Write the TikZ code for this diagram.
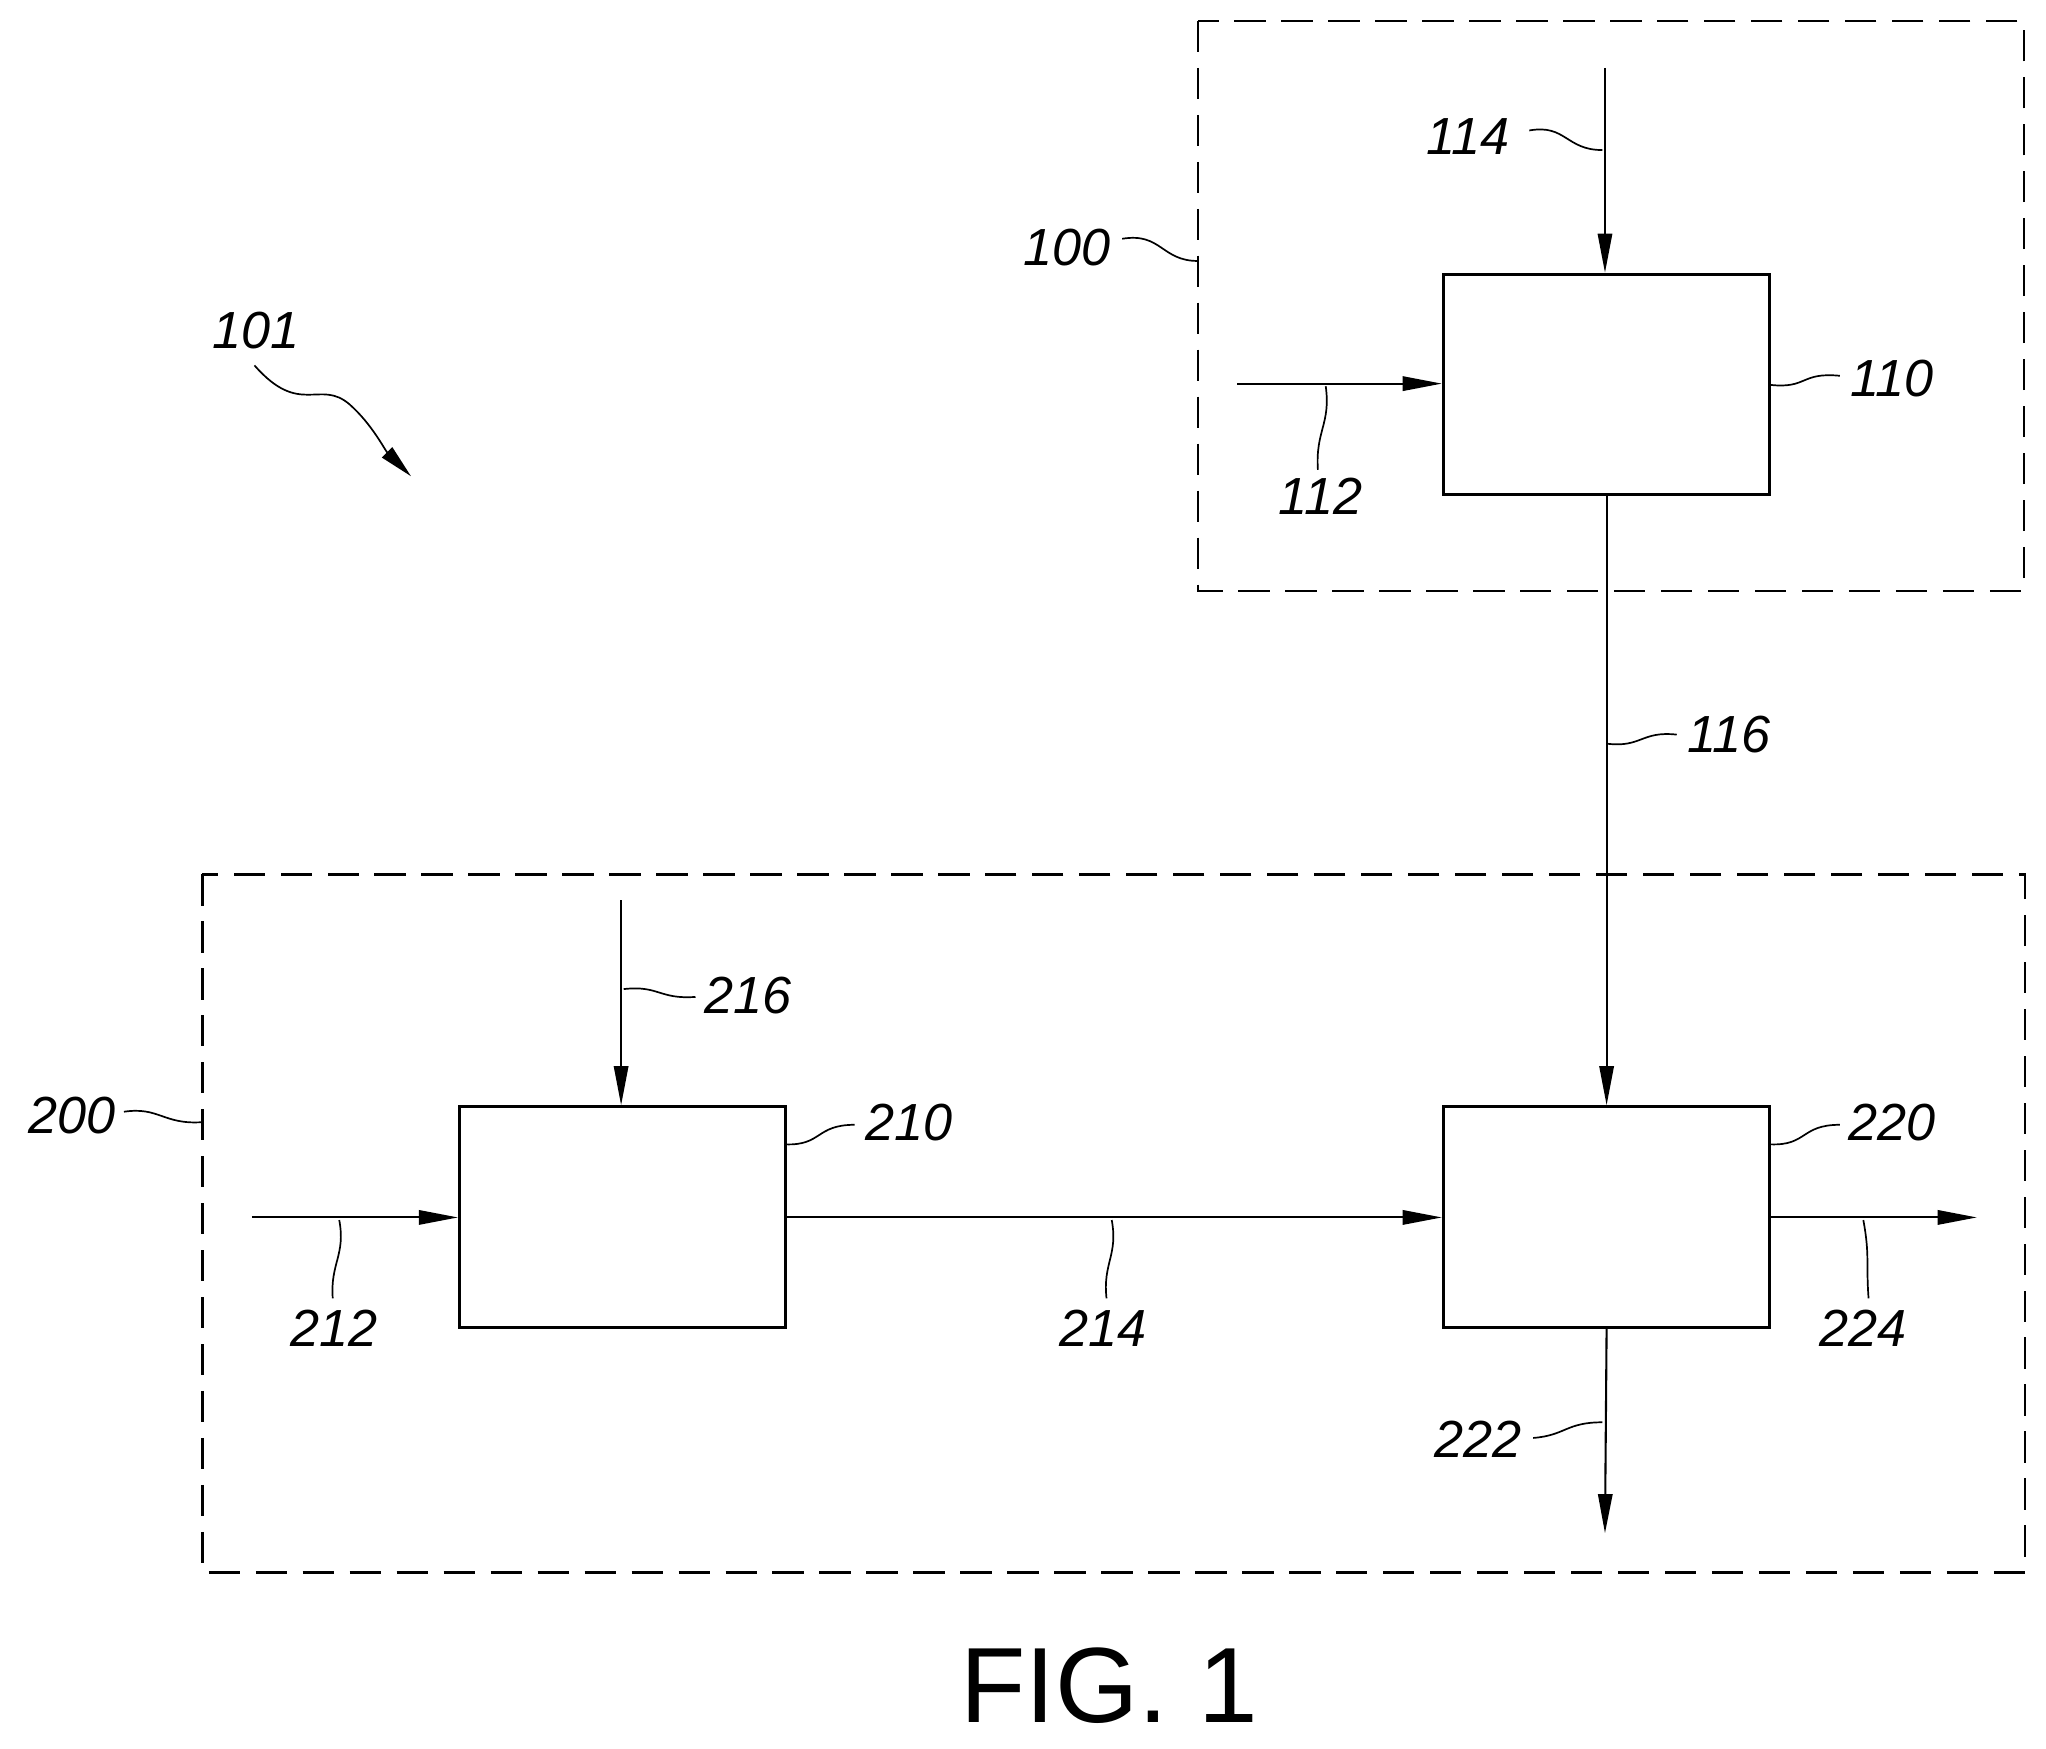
\documentclass[tikz,border=0pt]{standalone}
\usepackage{fontspec}
\setmainfont{Liberation Sans}
\usetikzlibrary{arrows.meta}
\begin{document}
\begin{tikzpicture}[x=1pt,y=-1pt,
  box/.style={draw,line width=2.5pt,minimum width=250pt,minimum height=169pt,anchor=north west,inner sep=0},
  flow/.style={line width=1.6pt,-{Triangle[length=30pt,width=11pt]}},
  dashbox/.style={line width=2pt,dash pattern=on 24pt off 12pt},
  lead/.style={line width=1.3pt},
  lab/.style={font=\fontsize{40}{40}\selectfont\itshape,inner sep=0}]
\useasboundingbox (0,0) rectangle (1568,1340);
\draw[dashbox] (918,16) rectangle (1551,453);
\draw[dashbox] (155,670) rectangle (1552,1205);
\node[box] (b110) at (1105,209) {};
\node[box] (b210) at (351,847) {};
\node[box] (b220) at (1105,847) {};
\coordinate (s114) at (1230,52);
\coordinate (s112) at (948,294);
\coordinate (s216) at (476,690);
\coordinate (s212) at (193,933);
\coordinate (e224) at (1515,933);
\coordinate (e222) at (1230,1175);
\draw[flow] (s114) -- (s114 |- b110.north);
\draw[flow] (s112) -- (s112 -| b110.west);
\draw[flow] (b110.south) -- (b220.north);
\draw[flow] (s216) -- (s216 |- b210.north);
\draw[flow] (s212) -- (s212 -| b210.west);
\draw[flow] (b210.east |- s212) -- (b220.west |- s212);
\draw[flow] (b220.east |- e224) -- (e224);
\draw[flow] (b220.south) -- (e222);
% labels
\node[lab] (l101) at (196,253) {101};
\node[lab] (l100) at (818,190) {100};
\node[lab] (l114) at (1125,105) {114};
\node[lab] (l110) at (1450,290) {110};
\node[lab] (l112) at (1012,380) {112};
\node[lab] (l116) at (1325,563) {116};
\node[lab] (l216) at (573,763) {216};
\node[lab] (l210) at (697,860) {210};
\node[lab] (l220) at (1450,860) {220};
\node[lab] (l212) at (256,1018) {212};
\node[lab] (l214) at (845,1018) {214};
\node[lab] (l224) at (1428,1018) {224};
\node[lab] (l222) at (1133,1103) {222};
\node[lab] (l200) at (55,855) {200};
\node[font=\fontsize{82}{82}\selectfont,inner sep=0] (fig) at (850,1292) {FIG. 1};
% leaders
\draw[lead] (860,183) .. controls (890,178) and (890,200) .. (918,200);
\draw[lead] (1172,100) .. controls (1200,95) and (1200,115) .. (1228,115);
\draw[lead] (1357,295) .. controls (1385,298) and (1380,285) .. (1410,288);
\draw[lead] (1016,296) .. controls (1020,325) and (1008,330) .. (1010,360);
\draw[lead] (1232,570) .. controls (1258,573) and (1258,560) .. (1285,563);
\draw[lead] (478,758) .. controls (505,755) and (505,766) .. (533,764);
\draw[lead] (602,877) .. controls (630,878) and (625,862) .. (655,862);
\draw[lead] (1357,877) .. controls (1385,878) and (1380,862) .. (1410,862);
\draw[lead] (260,935) .. controls (265,962) and (253,968) .. (255,995);
\draw[lead] (852,935) .. controls (857,962) and (845,968) .. (848,995);
\draw[lead] (1428,935) .. controls (1433,962) and (1430,968) .. (1432,995);
\draw[lead] (1175,1102) .. controls (1200,1100) and (1200,1090) .. (1228,1090);
\draw[lead] (95,852) .. controls (122,848) and (125,862) .. (155,860);
\draw[lead,-{Triangle[length=26pt,width=11pt]}] (195,280) .. controls (230,320) and (245,290) .. (268,310) .. controls (285,325) and (295,345) .. (315,365);
\end{tikzpicture}
\end{document}
